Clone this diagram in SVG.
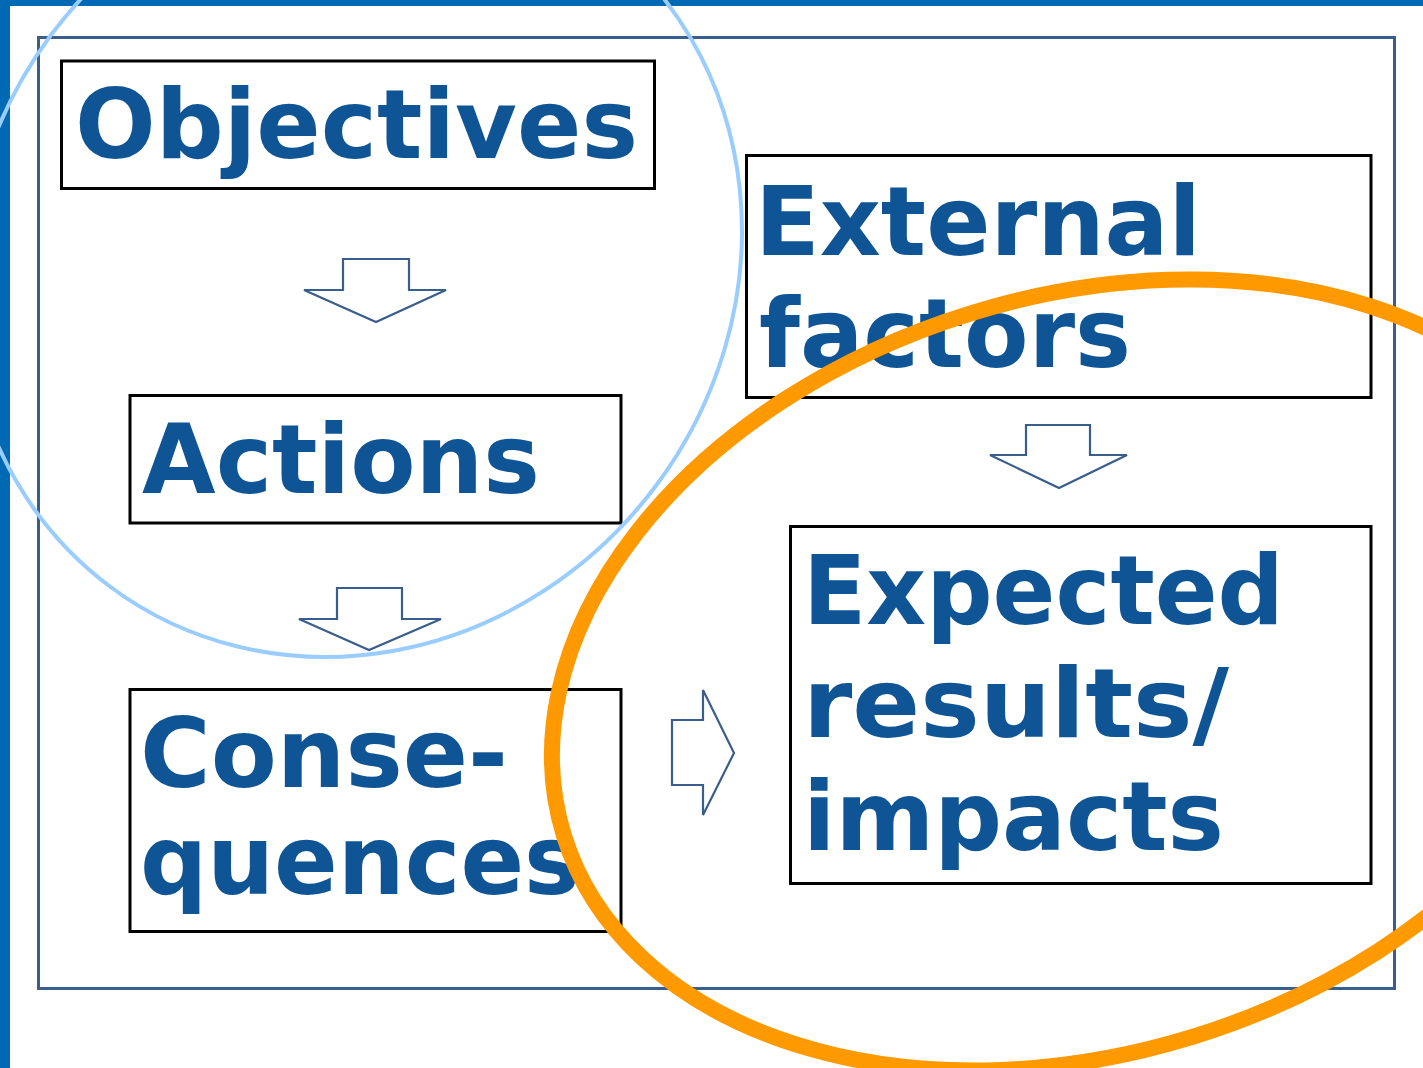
<svg xmlns="http://www.w3.org/2000/svg" width="1423" height="1068" viewBox="0 0 1423 1068">
  <style>
    .box { fill: #ffffff; stroke: #000000; stroke-width: 3; }
    .lbl { font-family: "DejaVu Sans", Verdana, "Liberation Sans", sans-serif; font-weight: bold; font-size: 96px; fill: #0f5494; }
    .arrow { fill: #ffffff; stroke: #3a5e8c; stroke-width: 2.2; stroke-linejoin: miter; }
  </style>
  <rect x="0" y="0" width="1423" height="1068" fill="#ffffff"/>
  <g id="frame">
    <rect x="0" y="0" width="10" height="1068" fill="#0069b4"/>
    <rect x="0" y="0" width="1423" height="6" fill="#0069b4"/>
    <rect x="38.5" y="37.5" width="1356" height="951" fill="none" stroke="#3a5e8c" stroke-width="3"/>
  </g>

  <g id="objectives">
    <rect class="box" x="61.5" y="61" width="593" height="127.5"/>
    <text class="lbl" x="75" y="158" textLength="563" lengthAdjust="spacingAndGlyphs">Objectives</text>
  </g>
  <g id="actions">
    <rect class="box" x="130" y="395.5" width="491" height="127.5"/>
    <text class="lbl" x="142" y="493" textLength="398" lengthAdjust="spacingAndGlyphs">Actions</text>
  </g>
  <g id="consequences">
    <rect class="box" x="130" y="689.5" width="491" height="242"/>
    <text class="lbl" x="140" y="787" textLength="368" lengthAdjust="spacingAndGlyphs">Conse-</text>
    <text class="lbl" x="140" y="894" textLength="440" lengthAdjust="spacingAndGlyphs">quences</text>
  </g>
  <g id="external-factors">
    <rect class="box" x="746.5" y="155.5" width="624.5" height="242"/>
    <text class="lbl" x="755" y="255" textLength="446" lengthAdjust="spacingAndGlyphs">External</text>
    <text class="lbl" x="759" y="367" textLength="372" lengthAdjust="spacingAndGlyphs">factors</text>
  </g>
  <g id="expected-results">
    <rect class="box" x="790.5" y="526.5" width="580.5" height="357"/>
    <text class="lbl" x="803" y="624" textLength="481" lengthAdjust="spacingAndGlyphs">Expected</text>
    <text class="lbl" x="803" y="737" textLength="426" lengthAdjust="spacingAndGlyphs">results/</text>
    <text class="lbl" x="803" y="850" textLength="421" lengthAdjust="spacingAndGlyphs">impacts</text>
  </g>

  <g id="connectors">
    <path class="arrow" d="M343,259 H409 V290 H446 L376,322 L304,290 H343 Z"/>
    <path class="arrow" d="M337,588 H402 V619 H441 L369,650 L299,619 H337 Z"/>
    <path class="arrow" d="M1026,425 H1090 V455 H1127 L1059,488 L990,455 H1026 Z"/>
    <path class="arrow" d="M672,720 H703 V690 L734,753 L703,815 V785 H672 Z"/>
  </g>

  <g id="highlights">
    <ellipse cx="353.7" cy="260.1" rx="377.2" ry="407.4" transform="rotate(36.7 353.7 260.1)" fill="none" stroke="#99ccff" stroke-width="4"/>
    <ellipse cx="1082" cy="675" rx="542.4" ry="378.4" transform="rotate(-17.23 1082 675)" fill="none" stroke="#ff9900" stroke-width="16"/>
  </g>
</svg>
